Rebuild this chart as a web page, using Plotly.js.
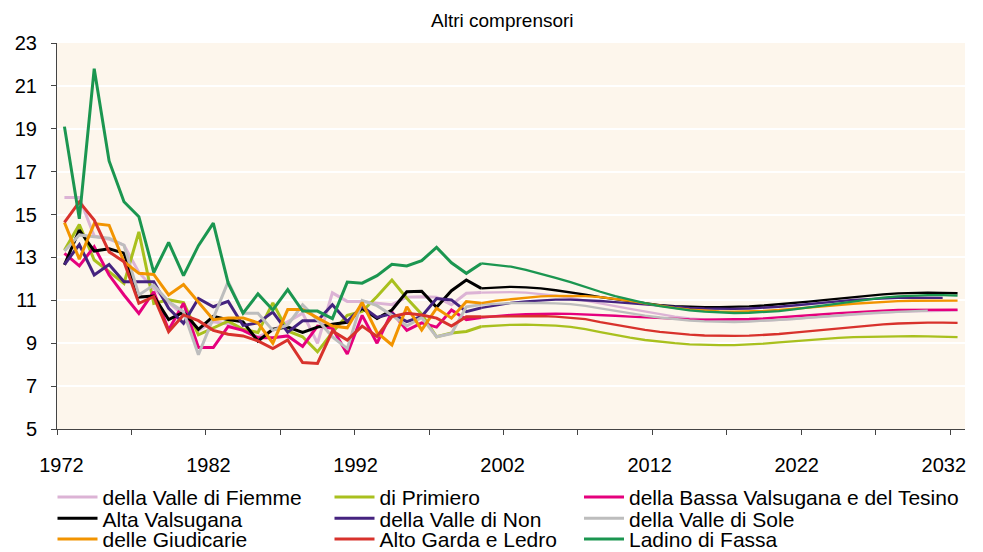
<!DOCTYPE html>
<html>
<head>
<meta charset="utf-8">
<script src="https://cdn.plot.ly/plotly-3.0.1.min.js"></script>
<style>html,body{margin:0;padding:0;background:#fff;}#chart{width:983px;height:552px;}</style>
</head>
<body>
<div id="chart"></div>
<script>
const years = [1972,1973,1974,1975,1976,1977,1978,1979,1980,1981,1982,1983,1984,1985,1986,1987,1988,1989,1990,1991,1992,1993,1994,1995,1996,1997,1998,1999,2000,2001,2002,2003,2004,2005,2006,2007,2008,2009,2010,2011,2012,2013,2014,2015,2016,2017,2018,2019,2020,2021,2022,2023,2024,2025,2026,2027,2028,2029,2030,2031,2032];
const xTickLabels = [1972,1982,1992,2002,2012,2022,2032];
const yTickValues = [5,7,9,11,13,15,17,19,21,23];
const lastObservedYear = 2000;

const fiemme = [15.8,15.8,14.0,13.85,13.57,12.3,11.55,10.9,10.3,9.6,
 10.0,9.9,9.6,9.3,9.6,10.0,10.4,9.0,11.35,10.95,
 10.95,10.87,10.8,11.15,11.17,11.15,10.8,11.33,11.36,11.38,
 11.38,11.36,11.3,11.22,11.12,11.0,10.87,10.73,10.6,10.47,
 10.35,10.24,10.16,10.1,10.06,10.04,10.04,10.06,10.09,10.13,
 10.18,10.23,10.28,10.33,10.38,10.42,10.46,10.49,10.51,10.52,
 10.52];
const primiero = [13.34,14.53,12.88,12.33,11.79,14.19,10.86,11.02,10.9,9.39,
 9.7,10.03,9.65,9.5,10.88,9.57,9.3,8.6,9.5,10.3,
 10.48,11.18,11.95,11.1,10.35,9.3,9.48,9.55,9.78,9.83,
 9.86,9.87,9.86,9.82,9.76,9.66,9.52,9.38,9.26,9.15,
 9.07,9.0,8.95,8.92,8.91,8.91,8.94,8.98,9.04,9.1,
 9.16,9.21,9.25,9.28,9.3,9.32,9.33,9.33,9.32,9.3,
 9.28];
const bassaValsugana = [13.19,12.61,13.5,12.18,11.25,10.39,11.4,9.62,10.86,8.8,
 8.8,9.78,9.6,9.25,9.25,9.34,8.85,9.8,9.7,8.5,
 10.3,9.0,10.45,9.6,9.95,9.75,10.55,10.1,10.2,10.27,
 10.32,10.35,10.37,10.38,10.37,10.35,10.32,10.28,10.24,10.2,
 10.16,10.13,10.11,10.1,10.1,10.11,10.13,10.16,10.2,10.25,
 10.3,10.35,10.4,10.45,10.49,10.52,10.55,10.56,10.57,10.57,
 10.56];
const altaValsugana = [12.65,14.28,13.3,13.4,13.2,11.15,11.2,10.1,10.45,9.65,
 10.25,10.1,10.0,9.1,9.65,9.75,9.5,9.75,9.88,9.98,
 10.63,10.15,10.55,11.4,11.42,10.68,11.45,11.95,11.56,11.6,
 11.63,11.6,11.56,11.47,11.38,11.27,11.15,11.05,10.95,10.86,
 10.78,10.73,10.7,10.68,10.68,10.69,10.72,10.76,10.81,10.87,
 10.94,11.01,11.08,11.15,11.22,11.28,11.32,11.35,11.36,11.35,
 11.33];
const valleNon = [12.67,13.6,12.18,12.67,11.87,11.87,11.87,10.63,9.93,11.09,
 10.7,10.95,9.83,9.95,10.45,9.52,10.05,10.05,10.79,10.01,
 10.71,10.2,10.38,10.01,10.25,11.08,11.02,10.47,10.65,10.78,
 10.88,10.95,11.0,11.03,11.03,11.01,10.97,10.92,10.86,10.8,
 10.74,10.69,10.65,10.62,10.6,10.6,10.62,10.65,10.7,10.76,
 10.83,10.9,10.96,11.02,11.06,11.1,11.12,11.13,11.12,11.11,
 null];
const valleSole = [13.3,14.05,13.96,13.9,13.57,11.25,11.71,10.94,10.47,8.46,
 10.17,11.87,10.4,10.4,9.6,9.85,10.79,10.09,9.3,8.75,
 11.0,10.75,10.3,9.8,10.2,9.3,9.45,10.7,10.8,10.84,
 10.87,10.88,10.88,10.86,10.82,10.74,10.62,10.5,10.39,10.29,
 10.2,10.12,10.06,10.02,10.0,9.99,10.01,10.04,10.08,10.13,
 10.19,10.25,10.3,10.35,10.4,10.44,10.47,10.5,10.52,null,
 null];
const giudicarie = [14.63,12.92,14.58,14.5,12.8,12.26,12.21,11.25,11.74,10.94,
 10.1,10.18,10.18,9.95,9.0,10.57,10.57,10.18,9.8,9.72,
 10.9,9.5,8.92,10.7,9.62,10.63,10.17,10.94,10.87,10.98,
 11.05,11.12,11.18,11.21,11.22,11.2,11.15,11.07,10.97,10.86,
 10.75,10.65,10.57,10.51,10.48,10.47,10.48,10.51,10.55,10.6,
 10.66,10.72,10.78,10.84,10.89,10.93,10.96,10.98,10.99,10.99,
 10.99];
const altoGarda = [14.63,15.59,14.74,13.26,12.8,10.86,11.17,9.54,10.32,10.05,
 9.6,9.42,9.34,9.11,8.75,9.15,8.1,8.06,9.57,9.15,
 9.8,9.32,10.24,10.4,10.32,10.17,9.8,10.24,10.24,10.25,
 10.28,10.28,10.27,10.24,10.19,10.12,9.98,9.86,9.73,9.62,
 9.53,9.46,9.4,9.36,9.34,9.34,9.35,9.38,9.43,9.49,
 9.56,9.63,9.7,9.77,9.83,9.88,9.92,9.95,9.96,9.96,
 9.95];
const ladino = [19.1,14.8,21.8,17.5,15.6,14.9,12.3,13.7,12.15,13.55,
 14.6,11.8,10.4,11.3,10.55,11.5,10.5,10.5,10.15,11.85,
 11.8,12.15,12.68,12.6,12.85,13.47,12.75,12.26,12.72,12.65,
 12.57,12.42,12.25,12.05,11.85,11.62,11.4,11.2,11.02,10.87,
 10.73,10.62,10.53,10.47,10.43,10.41,10.42,10.45,10.5,10.58,
 10.67,10.77,10.87,10.97,11.06,11.13,11.18,11.22,11.24,11.24,
 11.22];

const seriesNames = ["della Valle di Fiemme","di Primiero","della Bassa Valsugana e del Tesino",
  "Alta Valsugana","della Valle di Non","della Valle di Sole",
  "delle Giudicarie","Alto Garda e Ledro","Ladino di Fassa"];
const seriesValues = [fiemme, primiero, bassaValsugana, altaValsugana, valleNon, valleSole, giudicarie, altoGarda, ladino];
const seriesColors = ["#dcb3d5","#a9c01e","#e5007d","#000000","#45237f","#bdbdbd","#f29400","#d8322c","#1b9650"];

const FONT = "Liberation Sans, Arial, sans-serif";
const splitIdx = years.indexOf(lastObservedYear);
const traces = [];
const layout = {
  width: 983, height: 552,
  margin: {l: 57.3, r: 18, t: 42.7, b: 122.7, pad: 0, autoexpand: false},
  paper_bgcolor: "#ffffff",
  plot_bgcolor: "#fdf6ec",
  font: {family: FONT, color: "#000000"},
  title: {text: "Altri comprensori", font: {family: FONT, size: 19, color: "#000"},
          x: 0.511, xref: "container", xanchor: "center", y: 1 - 20/552, yref: "container", yanchor: "middle"},
  showlegend: true,
  xaxis: {type: "linear", range: [1971.5, 2032.5], fixedrange: true, automargin: false,
          tickvals: [1971.5,1976.5,1981.5,1986.5,1991.5,1996.5,2001.5,2006.5,2011.5,2016.5,2021.5,2026.5,2031.5],
          showticklabels: false, ticks: "outside", ticklen: 5, tickwidth: 1, tickcolor: "#444",
          showline: true, linecolor: "#444", linewidth: 1, showgrid: false, zeroline: false},
  xaxis2: {type: "linear", overlaying: "x", anchor: "y", side: "bottom", automargin: false,
           range: [1971.70, 2033.44], tickvals: xTickLabels, ticktext: xTickLabels.map(String),
           tickangle: 0, ticks: "", showline: false, showgrid: false, zeroline: false,
           ticklabelstandoff: 22, tickfont: {family: FONT, size: 20, color: "#000"}},
  yaxis: {range: [5, 23], tickvals: yTickValues, ticktext: yTickValues.map(String), automargin: false,
          ticks: "outside", ticklen: 5, tickwidth: 1, tickcolor: "#444",
          showline: true, linecolor: "#444", linewidth: 1,
          showgrid: true, gridcolor: "#ffffff", gridwidth: 2, zeroline: false,
          ticklabelstandoff: 10, tickfont: {family: FONT, size: 20, color: "#000"}}
};

// legend grid: 3 columns x 3 rows
const legendTextX = [102.5, 379.5, 629];
const legendRowY = [497.3, 518.7, 539.3];
seriesNames.forEach((name, i) => {
  const col = i % 3, row = Math.floor(i / 3);
  const key = i === 0 ? "legend" : "legend" + (i + 1);
  layout[key] = {
    x: (legendTextX[col] - 50) / 983, xref: "container", xanchor: "left",
    y: 1 - legendRowY[row] / 552, yref: "container", yanchor: "middle",
    bgcolor: "rgba(0,0,0,0)", borderwidth: 0, itemwidth: 40,
    font: {family: FONT, size: 21, color: "#000"}
  };
  const vals = seriesValues[i];
  traces.push({
    type: "scatter", mode: "lines", name: name, legend: key,
    x: years.slice(0, splitIdx + 1), y: vals.slice(0, splitIdx + 1),
    line: {color: seriesColors[i], width: 3}, hoverinfo: "skip", showlegend: true
  });
  traces.push({
    type: "scatter", mode: "lines", name: name, legend: key,
    x: years.slice(splitIdx), y: vals.slice(splitIdx),
    line: {color: seriesColors[i], width: 2.3}, hoverinfo: "skip", showlegend: false
  });
});
// carrier trace for the year-label axis
traces.push({type: "scatter", mode: "lines", x: [years[0]], y: [null], xaxis: "x2", yaxis: "y",
             showlegend: false, hoverinfo: "skip"});

Plotly.newPlot("chart", traces, layout, {staticPlot: true, displayModeBar: false});
</script>
</body>
</html>
